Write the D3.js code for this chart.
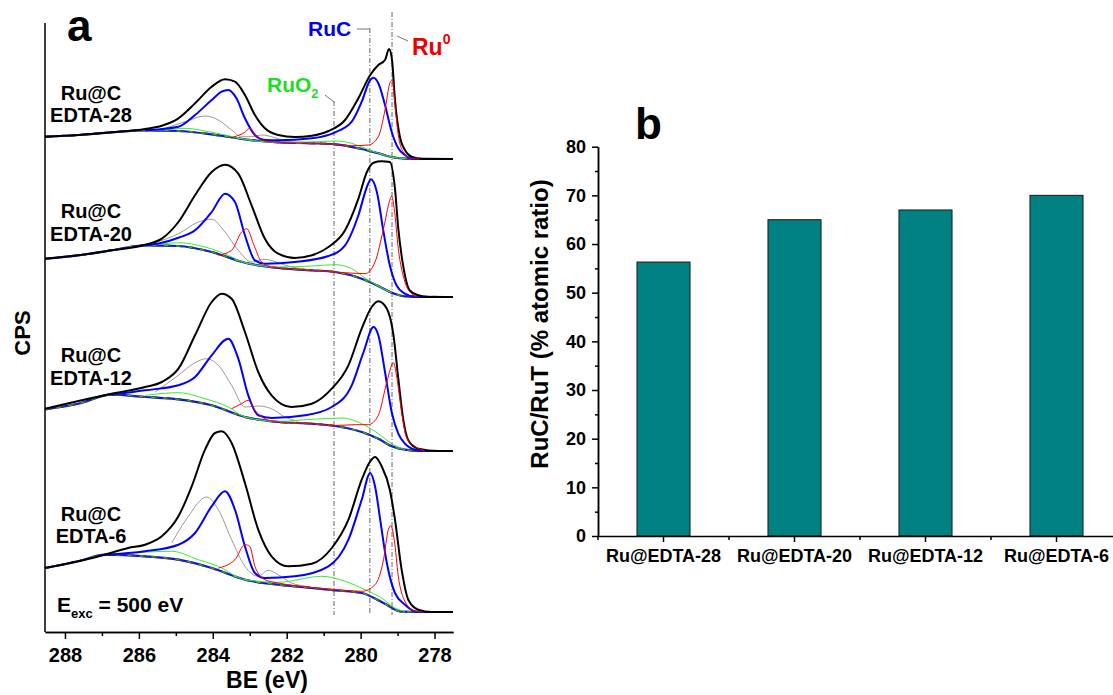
<!DOCTYPE html>
<html lang="en">
<head>
<meta charset="UTF-8">
<title>Ru 3d XPS and RuC/RuT ratio</title>
<script src="https://d3js.org/d3.v7.min.js" charset="utf-8"></script>
<style>
  body { margin: 0; background: #fff; }
  svg { display: block; font-family: Arial, "Liberation Sans", sans-serif; font-weight: bold; }
</style>
</head>
<body>
<script>
// ---------- panel a : Ru 3d / C 1s region, [BE (eV), counts] ----------
var samples = ["EDTA-28", "EDTA-20", "EDTA-12", "EDTA-6"];
var offsets = [473, 335, 181, 20];   // vertical stacking of the spectra

var bg28 = [[288.54,22.3],[287.64,24],[286.74,26.7],[285.83,28.7],[284.93,28],[284.03,24.7],[283.13,19.7],[282.23,16.7],[281.32,15.7],[280.69,14.7],[279.97,10],[279.52,5.7],[279.16,2],[278.8,0.3],[277.5,0]];
var env28 = [[288.54,22.3],[287.64,24],[286.74,26.7],[285.83,30],[285.38,33.3],[284.93,40.7],[284.48,55.7],[284.03,72.3],[283.67,79.7],[283.4,77.3],[283.13,64],[282.86,44],[282.59,30.7],[282.23,24],[281.78,22],[281.32,23.3],[280.87,28],[280.42,39],[280.06,60.7],[279.74,84],[279.52,94],[279.34,99],[279.23,110],[279.15,99],[279.07,59],[278.93,21],[278.8,9],[278.6,2],[278.34,0],[277.5,0]];
var ruc28 = [[285.83,28.7],[284.93,32.3],[284.48,44],[284.03,59],[283.76,67.3],[283.58,69],[283.36,60.7],[283.13,40.7],[282.86,24],[282.59,19],[282.23,18.7],[281.32,20.7],[280.69,26.7],[280.24,37.3],[279.97,57.3],[279.74,79],[279.65,81.3],[279.52,75.7],[279.34,54],[279.16,27.3],[278.98,10.7],[278.8,4],[278.53,0],[277.5,0]];
var ru0_28 = [[283.49,20.7],[283.4,22.3],[283.13,26.7],[283.0,30.7],[282.81,22.3],[282.59,18],[282.23,16.7],[281.32,15.7],[280.69,14.7],[280.24,13.3],[279.79,14],[279.52,22.3],[279.34,49],[279.21,75.7],[279.14,79],[279.07,54],[278.98,24],[278.85,7.3],[278.62,0.7],[278.4,0]];
var ruo2_28 = [[285.83,28.7],[285.38,29],[284.75,30.7],[284.21,28],[283.58,23.3],[283.13,19.7],[282.23,16.7],[281.69,16.7],[280.69,18],[280.24,15.7],[279.88,10.7],[279.52,5.7],[279.16,2],[278.8,0.3]];
var sat28 = [[285.29,30.7],[284.75,37.3],[284.21,43],[283.85,39],[283.49,29],[283.22,22.3],[282.95,22.3],[282.68,24],[282.32,21.3],[282.05,18],[281.6,16]];

var bg20 = [[288.54,38.3],[287.64,41.7],[286.74,46.7],[285.83,51.7],[284.93,51],[284.03,45],[283.13,34.3],[282.23,29],[281.32,26.7],[280.69,25],[279.97,18.3],[279.52,11],[279.16,4.3],[278.8,0.7],[277.5,0]];
var env20 = [[288.54,38.3],[287.64,41.7],[286.74,46.7],[285.83,52.3],[285.38,58.3],[284.93,75],[284.48,101.7],[284.03,125],[283.67,132.3],[283.31,123.3],[282.95,91.7],[282.59,58.3],[282.23,43.3],[281.78,39],[281.32,41.7],[280.87,50],[280.42,66.7],[280.06,98.3],[279.83,125],[279.65,134.3],[279.43,135.7],[279.21,135],[279.07,108.3],[278.98,68.3],[278.85,31.7],[278.67,6.7],[278.44,1.7],[278.17,0],[277.5,0]];
var ruc20 = [[285.83,51.7],[285.38,54.3],[284.93,59.3],[284.48,66.7],[284.03,85],[283.67,103.3],[283.4,95],[283.13,61.7],[282.86,36.7],[282.59,33.3],[281.78,35],[280.87,41],[280.42,51.7],[280.06,81.7],[279.83,110],[279.72,117.7],[279.56,105],[279.38,65],[279.21,31.7],[279.03,11.7],[278.8,3.3],[278.53,0],[277.5,0]];
var ru0_20 = [[283.85,41.7],[283.49,46.7],[283.22,65],[283.08,68.3],[282.9,53.3],[282.68,35],[282.41,30],[281.78,28],[281.32,26.7],[280.69,25],[280.42,24.3],[279.88,23.3],[279.61,35],[279.38,68.3],[279.21,96.7],[279.16,101],[279.09,88.3],[278.98,48.3],[278.8,15],[278.62,3.3],[278.44,0]];
var ruo2_20 = [[286.02,51],[285.38,53],[284.93,54.3],[284.21,50],[283.58,41.7],[283.13,34.3],[282.23,30],[281.32,31],[280.69,32.3],[280.24,28.3],[279.88,19],[279.52,11],[279.16,4.3]];
var sat20 = [[285.56,54.3],[284.93,63.3],[284.39,75],[284.03,77.7],[283.67,65],[283.31,46.7],[282.95,35],[282.59,37.7],[282.23,34.3],[281.87,30],[281.5,28]];

var bg12 = [[288.54,41.7],[287.64,47.3],[286.74,56.3],[285.83,54],[284.93,51.7],[284.03,45.7],[283.13,34],[282.23,29],[281.32,27.3],[280.69,25],[279.97,19],[279.52,12.3],[279.16,4.7],[278.8,1.3],[278.35,0],[277.5,0]];
var env12 = [[288.54,42.3],[286.74,57.3],[285.83,64],[285.38,69],[284.93,82.3],[284.48,115.7],[284.03,149],[283.76,157.3],[283.49,152.3],[283.13,119],[282.77,79],[282.41,55.7],[281.87,44],[281.32,47.3],[280.78,62.3],[280.33,85.7],[279.97,122.3],[279.7,144],[279.52,149.7],[279.29,142.3],[279.11,115.7],[278.98,72.3],[278.85,32.3],[278.71,10.7],[278.44,2.3],[277.9,0],[277.5,0]];
var ruc12 = [[286.74,56.3],[285.83,60.7],[284.93,65.7],[284.48,74],[284.03,95.7],[283.58,112.3],[283.31,92.3],[283.04,55.7],[282.77,35.7],[282.41,33],[281.5,35.7],[280.78,44],[280.24,65.7],[279.92,99],[279.65,124],[279.52,115.7],[279.34,79],[279.16,39],[278.98,17.3],[278.8,7.3],[278.53,1.3],[278.3,0],[277.5,0]];
var ru0_12 = [[283.49,42.3],[283.22,47.3],[283.04,50.7],[282.86,40.7],[282.59,32.3],[282.23,29],[281.32,27.3],[280.69,25.5],[280.15,26.3],[279.79,26.3],[279.52,35.7],[279.29,69],[279.11,88.3],[279.03,75.7],[278.89,39],[278.76,14],[278.53,4.7],[278.26,0]];
var ruo2_12 = [[285.83,55.7],[284.93,58.3],[284.21,52.3],[283.58,44],[283.13,34],[282.23,29.7],[281.32,31.7],[280.51,33],[279.97,27.3],[279.52,17.3],[279.16,7.3],[278.8,1.3]];
var sat12 = [[285.56,59],[284.93,75.7],[284.48,88.3],[284.17,92.3],[283.85,85.7],[283.49,65.7],[283.13,44],[282.77,45],[282.41,42.3],[282.05,34],[281.69,29.7]];

var bg6 = [[288.54,44],[287.64,50.7],[286.92,57.3],[285.83,55.7],[284.93,52.3],[284.03,44],[283.13,32.3],[282.23,27.3],[281.32,24],[280.69,21.7],[279.97,19],[279.38,9],[278.93,0.7],[278.5,0],[277.5,0]];
var env6 = [[288.54,44],[287.64,50.7],[286.92,57.3],[286.29,64],[285.83,67.3],[285.38,75.7],[284.93,95.7],[284.57,125.7],[284.21,162.3],[283.94,179],[283.76,180.7],[283.49,169],[283.13,129],[282.77,82.3],[282.41,55.7],[281.96,45.7],[281.32,48.3],[280.78,64],[280.33,92.3],[279.97,132.3],[279.74,150.7],[279.61,155],[279.43,145.7],[279.21,122.3],[279.07,92.3],[278.89,42.3],[278.71,12.3],[278.44,2.3],[278.08,0],[277.5,0]];
var ruc6 = [[286.92,57.3],[285.83,60.7],[284.93,67.3],[284.48,79],[284.03,105.7],[283.67,120.7],[283.4,102.3],[283.13,65.7],[282.86,39],[282.59,34],[281.78,35.7],[280.87,45.7],[280.33,72.3],[279.97,112.3],[279.74,139],[279.61,125.7],[279.47,92.3],[279.29,49],[279.07,19],[278.8,7.3],[278.53,0.7],[278.3,0],[277.5,0]];
var ru0_6 = [[283.85,44],[283.4,52.3],[283.13,67.3],[283.0,65.7],[282.86,45.7],[282.59,32.3],[282.23,29],[281.32,24.5],[280.42,21.7],[279.97,20.7],[279.61,27.3],[279.38,52.3],[279.25,82.3],[279.18,86.3],[279.09,72.3],[278.98,35.7],[278.8,10.7],[278.53,0.7],[278.3,0]];
var ruo2_6 = [[286.29,59],[285.11,60.7],[284.39,52.3],[283.85,45.7],[283.13,32.3],[282.23,29.7],[281.05,35.7],[280.42,30.7],[279.88,22.3],[279.43,14],[279.07,4],[278.8,0.5]];
var sat6 = [[285.11,69],[284.66,95.7],[284.17,115],[283.85,102.3],[283.49,72.3],[283.13,45.7],[282.77,35.7],[282.5,41.7],[282.23,37.3],[281.87,29],[281.5,26]];

var beTicks = [288, 286, 284, 282, 280, 278];
var beMinor = [287, 285, 283, 281, 279];
var refLines = [279.75, 279.15, 280.72];   // RuC, Ru0, RuO2 positions

// ---------- panel b : RuC / RuT ratio ----------
var categories = ["Ru@EDTA-28", "Ru@EDTA-20", "Ru@EDTA-12", "Ru@EDTA-6"];
var ratio = [56.3, 65, 67, 70];
var ratioTicks = [0, 10, 20, 30, 40, 50, 60, 70, 80];
var ratioMinor = [5, 15, 25, 35, 45, 55, 65, 75];

var spectra = [
    { name: samples[0], off: offsets[0], bg: bg28, env: env28, ruc: ruc28, ru0: ru0_28, ruo2: ruo2_28, sat: sat28 },
    { name: samples[1], off: offsets[1], bg: bg20, env: env20, ruc: ruc20, ru0: ru0_20, ruo2: ruo2_20, sat: sat20 },
    { name: samples[2], off: offsets[2], bg: bg12, env: env12, ruc: ruc12, ru0: ru0_12, ruo2: ruo2_12, sat: sat12 },
    { name: samples[3], off: offsets[3], bg: bg6, env: env6, ruc: ruc6, ru0: ru0_6, ruo2: ruo2_6, sat: sat6 }
];

var width = 1113, height = 695;
var svg = d3.select("body").append("svg").attr("width", width).attr("height", height);

// ===== panel a =====
var x = d3.scaleLinear().domain([288.54, 277.5]).range([45, 453]);
var y = d3.scaleLinear().domain([0, 609]).range([632, 23]);
var pa = svg.append("g");

// reference lines
var refTop = [28, 12, 101];
pa.selectAll("line.ref").data(refLines).enter().append("line")
    .attr("class", "ref")
    .attr("x1", function (d) { return x(d); }).attr("x2", function (d) { return x(d); })
    .attr("y1", function (d, i) { return refTop[i]; }).attr("y2", 615)
    .attr("stroke", "#666").attr("stroke-width", 1).attr("stroke-dasharray", "5,2,1,2");

function lineFor(off) {
    return d3.line()
        .x(function (d) { return x(d[0]); })
        .y(function (d) { return y(d[1] + off); })
        .curve(d3.curveMonotoneX);
}

spectra.forEach(function (s) {
    var g = pa.append("g");
    var ln = lineFor(s.off);
    g.append("path").attr("d", ln(s.bg)).attr("fill", "none").attr("stroke", "#1010ee").attr("stroke-width", 2.2);
    g.append("path").attr("d", ln(s.bg)).attr("fill", "none").attr("stroke", "#444").attr("stroke-width", 2).attr("stroke-dasharray", "7,5");
    g.append("path").attr("d", ln(s.bg)).attr("fill", "none").attr("stroke", "#22cc22").attr("stroke-width", 1).attr("stroke-dasharray", "4,8");
    g.append("path").attr("d", ln(s.sat)).attr("fill", "none").attr("stroke", "#999").attr("stroke-width", 1);
    g.append("path").attr("d", ln(s.ruo2)).attr("fill", "none").attr("stroke", "#33ee33").attr("stroke-width", 1);
    g.append("path").attr("d", ln(s.ruc)).attr("fill", "none").attr("stroke", "#0000ff").attr("stroke-width", 2);
    g.append("path").attr("d", ln(s.env)).attr("fill", "none").attr("stroke", "#000").attr("stroke-width", 2);
    g.append("path").attr("d", ln(s.ru0)).attr("fill", "none").attr("stroke", "#ff0000").attr("stroke-width", 1);
});

// sample labels
var labelY = [[100, 122], [218, 241], [362, 385], [521, 543]];
spectra.forEach(function (s, i) {
    pa.append("text").attr("x", 91).attr("y", labelY[i][0]).attr("text-anchor", "middle")
        .style("font-size", "20px").text("Ru@C");
    pa.append("text").attr("x", 91).attr("y", labelY[i][1]).attr("text-anchor", "middle")
        .style("font-size", "20px").text(s.name);
});

// axes
var axA = pa.append("g").attr("transform", "translate(0,632)")
    .call(d3.axisBottom(x).tickValues(beTicks).tickSize(7).tickSizeOuter(0).tickPadding(9));
pa.append("g").attr("transform", "translate(0,632)")
    .call(d3.axisBottom(x).tickValues(beMinor).tickSize(4).tickSizeOuter(0).tickFormat(""));
axA.selectAll("text").attr("font-family", null).style("font-size", "20px").style("font-weight", "bold");
pa.selectAll(".domain").attr("stroke-width", 1.5);
pa.selectAll(".tick line").attr("stroke-width", 1.5);
pa.append("line").attr("x1", 45).attr("x2", 45).attr("y1", 23).attr("y2", 632)
    .attr("stroke", "#000").attr("stroke-width", 1.5);

pa.append("text").attr("x", 267).attr("y", 688).attr("text-anchor", "middle")
    .style("font-size", "23px").text("BE (eV)");
pa.append("text").attr("transform", "translate(30,333) rotate(-90)").attr("text-anchor", "middle")
    .style("font-size", "22px").text("CPS");
pa.append("text").attr("x", 67).attr("y", 41).style("font-size", "44px").text("a");

// peak annotations
pa.append("text").attr("x", 308).attr("y", 36).attr("fill", "#0000ee").style("font-size", "21px").text("RuC");
pa.append("line").attr("x1", 357).attr("y1", 29).attr("x2", x(refLines[0])).attr("y2", 29).attr("stroke", "#777");
var ru0 = pa.append("text").attr("x", 412).attr("y", 55).attr("fill", "#ee0000").style("font-size", "23px");
ru0.append("tspan").text("Ru");
ru0.append("tspan").attr("dy", -11).style("font-size", "14px").text("0");
pa.append("line").attr("x1", 397).attr("y1", 36).attr("x2", 408).attr("y2", 41).attr("stroke", "#777");
var ruo2 = pa.append("text").attr("x", 267).attr("y", 92).attr("fill", "#22dd22").style("font-size", "21px");
ruo2.append("tspan").text("RuO");
ruo2.append("tspan").attr("dy", 6).style("font-size", "13px").text("2");
pa.append("line").attr("x1", 325).attr("y1", 95).attr("x2", x(refLines[2])).attr("y2", 102).attr("stroke", "#777");

var eexc = pa.append("text").attr("x", 57).attr("y", 612).style("font-size", "21px");
eexc.append("tspan").text("E");
eexc.append("tspan").attr("dy", 6).style("font-size", "13px").text("exc");
eexc.append("tspan").attr("dy", -6).text(" = 500 eV");

// ===== panel b =====
var xb = d3.scaleBand().domain(categories).range([598, 1122]).paddingInner(0.595).paddingOuter(0.2975);
var yb = d3.scaleLinear().domain([0, 80]).range([536, 146.7]);
var pb = svg.append("g");

pb.selectAll("rect").data(ratio).enter().append("rect")
    .attr("x", function (d, i) { return xb(categories[i]); })
    .attr("y", function (d) { return yb(d); })
    .attr("width", xb.bandwidth())
    .attr("height", function (d) { return yb(0) - yb(d); })
    .attr("fill", "#008080").attr("stroke", "#1a1a1a").attr("stroke-width", 1);

var axBy = pb.append("g").attr("transform", "translate(598,0)")
    .call(d3.axisLeft(yb).tickValues(ratioTicks).tickSize(6).tickSizeOuter(0).tickPadding(6));
pb.append("g").attr("transform", "translate(598,0)")
    .call(d3.axisLeft(yb).tickValues(ratioMinor).tickSize(3).tickSizeOuter(0).tickFormat(""));
axBy.selectAll("text").attr("font-family", null).style("font-size", "18px").style("font-weight", "bold");

var axBx = pb.append("g").attr("transform", "translate(0,536)")
    .call(d3.axisBottom(xb).tickSize(6).tickSizeOuter(0).tickPadding(7));
axBx.selectAll("text").attr("font-family", null).style("font-size", "18px").style("font-weight", "bold");
var gap = (xb.step() - xb.bandwidth()) / 2;
pb.append("g").attr("transform", "translate(0,536)")
    .selectAll("line").data(categories).enter().append("line")
    .attr("x1", function (d) { return xb(d) - gap; }).attr("x2", function (d) { return xb(d) - gap; })
    .attr("y1", 0).attr("y2", 4).attr("stroke", "#000").attr("stroke-width", 1.5);
pb.selectAll(".domain").attr("stroke-width", 1.5);
pb.selectAll(".tick line").attr("stroke-width", 1.5);

pb.append("text").attr("transform", "translate(548,324) rotate(-90)").attr("text-anchor", "middle")
    .style("font-size", "24px").text("RuC/RuT (% atomic ratio)");
pb.append("text").attr("x", 635).attr("y", 139).style("font-size", "44px").text("b");
</script>
</body>
</html>
